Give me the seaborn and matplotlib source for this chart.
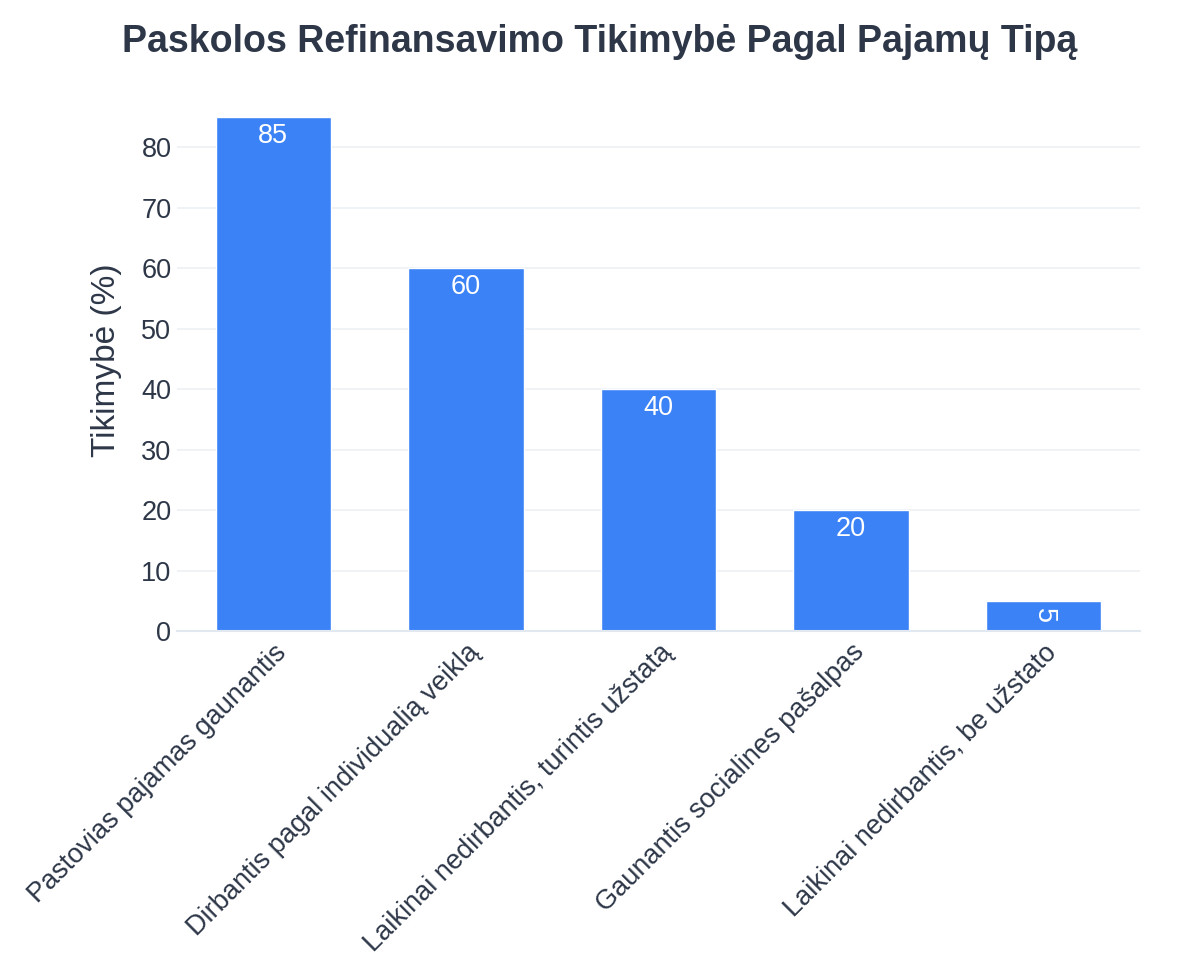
import matplotlib
matplotlib.use("Agg")
import matplotlib.pyplot as plt
import seaborn as sns
import pandas as pd

# Data
categories = [
    "Pastovias pajamas gaunantis",
    "Dirbantis pagal individualią veiklą",
    "Laikinai nedirbantis, turintis užstatą",
    "Gaunantis socialines pašalpas",
    "Laikinai nedirbantis, be užstato",
]
likelihood = [85, 60, 40, 20, 5]

df = pd.DataFrame({"Tipas": categories, "Tikimybe": likelihood})

sns.set_theme(style="white")
plt.rcParams["font.family"] = ["Liberation Sans", "DejaVu Sans"]

text_col = "#2d3748"
bar_col = "#3b82f6"

fig = plt.figure(figsize=(12, 9.75), dpi=100)
ax = fig.add_axes([0.1475, 0.3528, 0.8025, 0.555])

sns.barplot(data=df, x="Tipas", y="Tikimybe", color=bar_col, width=0.6,
            saturation=1, ax=ax, zorder=2)

ax.set_ylim(0, 89.5)
ax.set_xlim(-0.5, len(categories) - 0.5)
ax.set_yticks(range(0, 90, 10))
ax.yaxis.grid(True, color="#eef1f5", linewidth=1.2, zorder=0)
ax.set_axisbelow(True)

for s in ["top", "right", "left"]:
    ax.spines[s].set_visible(False)
ax.spines["bottom"].set_color("#e2e8f0")
ax.spines["bottom"].set_linewidth(1.5)

ax.tick_params(axis="y", labelsize=19.5, colors=text_col, length=0, pad=4)
ax.tick_params(axis="x", labelsize=19.5, colors=text_col, length=0, pad=6)
plt.setp(ax.get_xticklabels(), rotation=45, ha="right", rotation_mode="anchor")

ax.set_xlabel("")
ax.set_ylabel("Tikimybė (%)", fontsize=24, color=text_col, labelpad=14)

# value labels inside bars
for i, v in enumerate(likelihood):
    if v >= 10:
        ax.text(i, v - 1.0, str(v), ha="center", va="top", color="white", fontsize=19.5)
    else:
        ax.text(i, v / 2, str(v), ha="center", va="center", color="white",
                fontsize=19.5, rotation=-90)

fig.suptitle("Paskolos Refinansavimo Tikimybė Pagal Pajamų Tipą", x=0.5, y=0.975,
             fontsize=27, fontweight="bold", color=text_col)

fig.savefig("out.png", dpi=100, facecolor="white")
